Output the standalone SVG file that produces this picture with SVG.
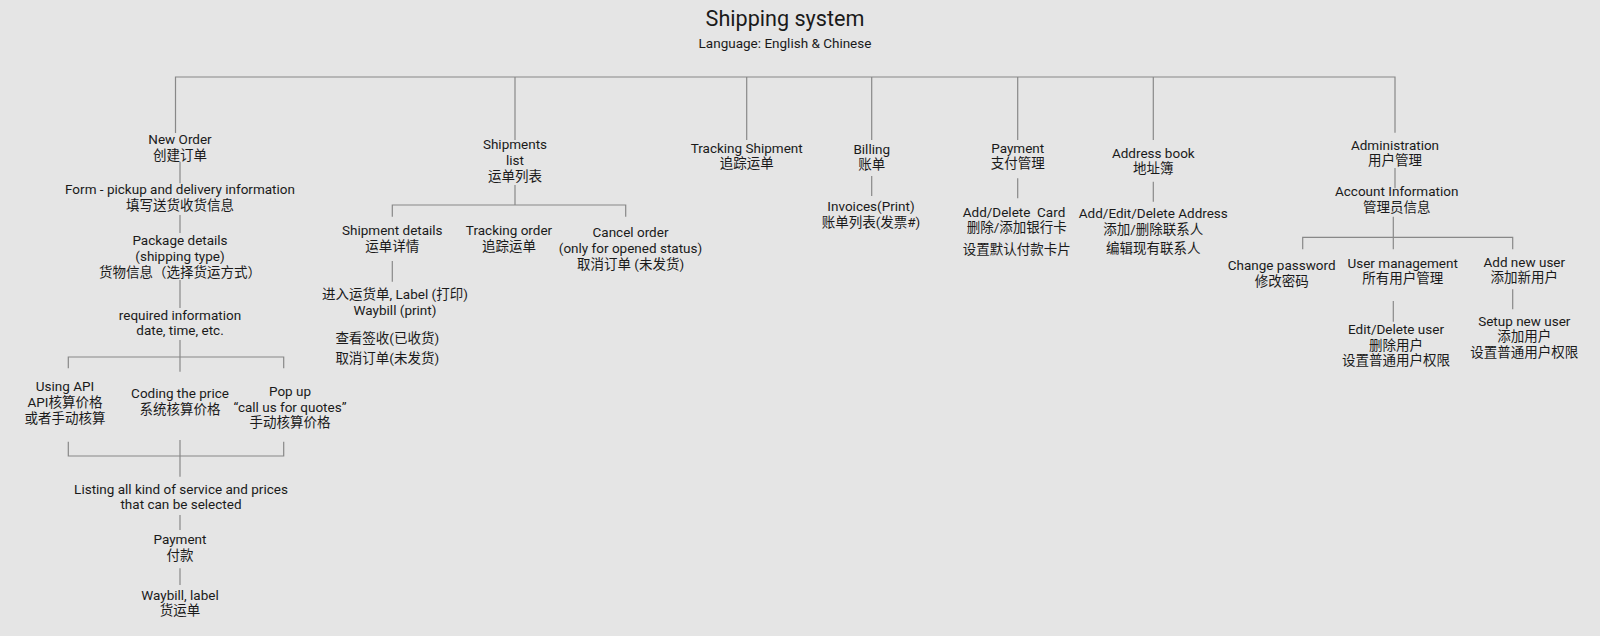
<svg xmlns="http://www.w3.org/2000/svg" width="1600" height="636" viewBox="0 0 1600 636">
<style>
text{font-family:Roboto,"Noto Sans CJK SC",sans-serif;fill:#1a1a1a;text-anchor:middle;font-size:13.5px}
.title{font-size:21.6px}
.sub{font-size:13.5px}
.c line,.c path{stroke:#888;stroke-width:1.2;fill:none}
</style>
<rect width="1600" height="636" fill="#e5e5e5"/>
<g id="title">
<text class="title" x="785" y="25.7">Shipping system</text>
<text class="sub" x="785" y="47.7">Language: English &amp; Chinese</text>
</g>
<g class="c" id="connectors">
<path d="M175.5,133 V77 H1395 V132.7"/>
<line x1="515" y1="77" x2="515" y2="140"/>
<line x1="746.7" y1="77" x2="746.7" y2="140"/>
<line x1="871.7" y1="77" x2="871.7" y2="140"/>
<line x1="1017.7" y1="77" x2="1017.7" y2="140"/>
<line x1="1153.3" y1="77" x2="1153.3" y2="140"/>
<line x1="180" y1="161.7" x2="180" y2="183.3"/>
<line x1="180" y1="215" x2="180" y2="233"/>
<line x1="180" y1="280" x2="180" y2="308"/>
<line x1="180" y1="340" x2="180" y2="371.7"/>
<path d="M68.3,368.3 V357 H283.7 V368.3"/>
<path d="M68.3,441.7 V456 H283.7 V441.7"/>
<line x1="180" y1="440" x2="180" y2="476.7"/>
<line x1="180" y1="515" x2="180" y2="530"/>
<line x1="180" y1="568.3" x2="180" y2="585"/>
<line x1="515" y1="185" x2="515" y2="205"/>
<path d="M392.3,216.7 V205 H625.7 V216.7"/>
<line x1="392.3" y1="261" x2="392.3" y2="281.7"/>
<line x1="871.7" y1="176" x2="871.7" y2="196"/>
<line x1="1017.7" y1="178.3" x2="1017.7" y2="198.3"/>
<line x1="1153.3" y1="181.7" x2="1153.3" y2="201.7"/>
<line x1="1395" y1="168" x2="1395" y2="188.3"/>
<line x1="1393.3" y1="216.7" x2="1393.3" y2="249.3"/>
<path d="M1302.7,249.3 V237.3 H1512.7 V249.3"/>
<line x1="1393.3" y1="301" x2="1393.3" y2="321.7"/>
<line x1="1512.7" y1="289.3" x2="1512.7" y2="309.3"/>
</g>
<g id="new-order"><text x="180" y="144">New Order<tspan x="180" y="159.7">创建订单</tspan></text></g>
<g id="form"><text x="180" y="194">Form - pickup and delivery information<tspan x="180" y="209.7">填写送货收货信息</tspan></text></g>
<g id="package"><text x="180" y="245.4">Package details<tspan x="180" y="261.2">(shipping type)</tspan><tspan x="180" y="277">货物信息（选择货运方式）</tspan></text></g>
<g id="required"><text x="180" y="319.7">required information<tspan x="180" y="335.4">date, time, etc.</tspan></text></g>
<g id="using-api"><text x="65" y="391.4">Using API<tspan x="65" y="407">API核算价格</tspan><tspan x="65" y="423">或者手动核算</tspan></text></g>
<g id="coding"><text x="180" y="398">Coding the price<tspan x="180" y="413.7">系统核算价格</tspan></text></g>
<g id="popup"><text x="290" y="396.4">Pop up<tspan x="290" y="412">“call us for quotes”</tspan><tspan x="290" y="427">手动核算价格</tspan></text></g>
<g id="listing"><text x="181" y="493.7">Listing all kind of service and prices<tspan x="181" y="509">that can be selected</tspan></text></g>
<g id="payment-step"><text x="180" y="544">Payment<tspan x="180" y="559.7">付款</tspan></text></g>
<g id="waybill"><text x="180" y="600.4">Waybill, label<tspan x="180" y="615.4">货运单</tspan></text></g>
<g id="shipments"><text x="515" y="149">Shipments<tspan x="515" y="164.7">list</tspan><tspan x="515" y="180.7">运单列表</tspan></text></g>
<g id="shipment-details"><text x="392.3" y="234.7">Shipment details<tspan x="392.3" y="250.7">运单详情</tspan></text></g>
<g id="tracking-order"><text x="509" y="234.7">Tracking order<tspan x="509" y="250.7">追踪运单</tspan></text></g>
<g id="cancel-order"><text x="630.5" y="237.4">Cancel order<tspan x="630.5" y="253.4">(only for opened status)</tspan><tspan x="630.5" y="269">取消订单 (未发货)</tspan></text></g>
<g id="label-print"><text x="395" y="298.7">进入运货单, Label (打印)<tspan x="395" y="314.7">Waybill (print)</tspan></text></g>
<g id="check-receipt"><text x="387.3" y="343">查看签收(已收货)</text></g>
<g id="cancel-unshipped"><text x="387.3" y="363">取消订单(未发货)</text></g>
<g id="tracking-shipment"><text x="746.7" y="153">Tracking Shipment<tspan x="746.7" y="168">追踪运单</tspan></text></g>
<g id="billing"><text x="871.7" y="153.5">Billing<tspan x="871.7" y="168.5">账单</tspan></text></g>
<g id="invoices"><text x="871" y="211.4">Invoices(Print)<tspan x="871" y="227">账单列表(发票#)</tspan></text></g>
<g id="payment"><text x="1017.7" y="153">Payment<tspan x="1017.7" y="168">支付管理</tspan></text></g>
<g id="card"><text x="1014" y="217">Add/Delete&#160; Card<tspan x="1016.7" y="232.4">删除/添加银行卡</tspan></text></g>
<g id="default-card"><text x="1016.7" y="253.7">设置默认付款卡片</text></g>
<g id="address-book"><text x="1153.3" y="158">Address book<tspan x="1153.3" y="173">地址簿</tspan></text></g>
<g id="address-edit"><text x="1153.3" y="218">Add/Edit/Delete Address<tspan x="1153.3" y="233.7">添加/删除联系人</tspan></text></g>
<g id="address-existing"><text x="1153.3" y="253">编辑现有联系人</text></g>
<g id="administration"><text x="1395" y="149.7">Administration<tspan x="1395" y="165.4">用户管理</tspan></text></g>
<g id="account-info"><text x="1396.7" y="196.4">Account Information<tspan x="1396.7" y="212">管理员信息</tspan></text></g>
<g id="change-password"><text x="1281.7" y="270.4">Change password<tspan x="1281.7" y="285.7">修改密码</tspan></text></g>
<g id="user-management"><text x="1402.7" y="268">User management<tspan x="1402.7" y="283">所有用户管理</tspan></text></g>
<g id="add-new-user"><text x="1524.3" y="267">Add new user<tspan x="1524.3" y="282">添加新用户</tspan></text></g>
<g id="edit-delete-user"><text x="1396" y="334">Edit/Delete user<tspan x="1396" y="349.7">删除用户</tspan><tspan x="1396" y="364.7">设置普通用户权限</tspan></text></g>
<g id="setup-new-user"><text x="1524.3" y="326.4">Setup new user<tspan x="1524.3" y="341.4">添加用户</tspan><tspan x="1524.3" y="357">设置普通用户权限</tspan></text></g>
</svg>
